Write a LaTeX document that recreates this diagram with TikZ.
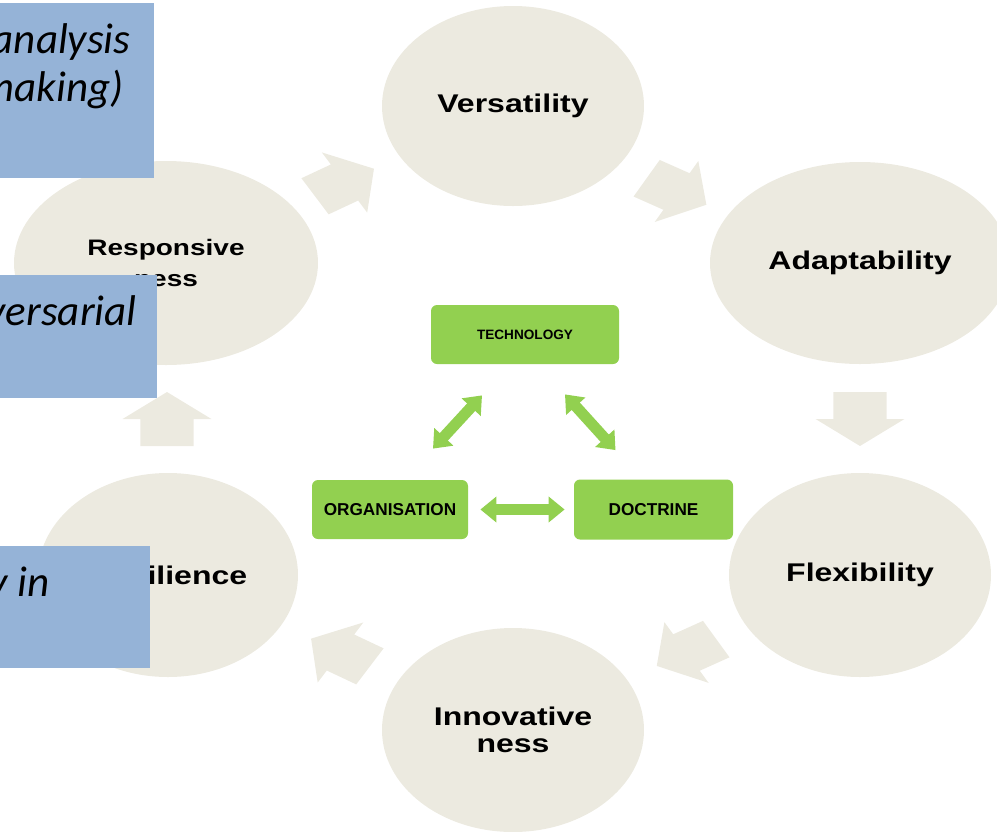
\documentclass[tikz,border=0pt]{standalone}
\usepackage{fontspec}
\setmainfont{Liberation Sans}
\newfontfamily\cyclefont[FakeStretch=1.25]{Liberation Sans}
\newfontfamily\notefont{Carlito}
\usetikzlibrary{shapes.geometric,arrows.meta,calc}
\definecolor{beige}{RGB}{236,234,224}
\definecolor{leaf}{RGB}{146,208,80}
\definecolor{noteblue}{RGB}{149,179,215}
\tikzset{
    ring/.style =      {ellipse,
                       fill=beige,
                       inner sep=0pt,
                       align=center,
                       font=\cyclefont\bfseries\fontsize{12.8}{13.4}\selectfont},
    smallring/.style = {ring,
                       font=\cyclefont\bfseries\fontsize{11.2}{15.5}\selectfont},
    unit/.style =      {rectangle,
                       rounded corners=3pt,
                       fill=leaf,
                       text=black,
                       inner sep=0pt,
                       font=\bfseries\fontsize{8.6}{10}\selectfont},
    garrow/.style =    {color=leaf,
                       line width=5.5pt,
                       arrows={Triangle[width=12.5pt,length=8pt]-Triangle[width=12.5pt,length=8pt]}},
    note/.style =      {rectangle,
                       fill=noteblue,
                       inner sep=0pt,
                       anchor=north east},
    notetext/.style =  {anchor=base east,
                       inner sep=0pt,
                       font=\notefont\itshape\fontsize{21.5}{25}\selectfont},
    % block arrow of the outer cycle, pointing along +x
    cycarrow/.pic =    {\fill[beige] (-27,-21) -- (0,-21) -- (0,-35) -- (27,0)
                                     -- (0,35) -- (0,21) -- (-27,21) -- cycle;}
}

\begin{document}
\begin{tikzpicture}[x=0.5pt, y=-0.5pt]
    \useasboundingbox (0,0) rectangle (997,831);
    \clip (0,0) rectangle (997,831);

    % outer cycle
    \node[ring, minimum width=131pt, minimum height=100pt]      (vers)  at (513,106) {Versatility};
    \node[ring, minimum width=150pt, minimum height=101pt]      (adapt) at (860,263) {Adaptability};
    \node[ring, minimum width=131pt, minimum height=102pt]      (flex)  at (860,575) {Flexibility};
    \node[ring, minimum width=131pt, minimum height=102pt]      (innov) at (513,730) {Innovative\\ness};
    \node[ring, minimum width=130pt, minimum height=102pt]      (resil) at (168,575) {Resilience};
    \node[smallring, minimum width=152pt, minimum height=102pt] (resp)  at (166,263) {Responsive\\ness};

    \pic[xscale=1.27, rotate=30.7]   at ($(resp)!.5!(vers)+(5,-2)$)   {cycarrow};
    \pic[xscale=1.27, rotate=-29.4]  at ($(vers)!.5!(adapt)+(-10,7)$) {cycarrow};
    \pic[xscale=1.27, rotate=-90]    at ($(adapt)!.5!(flex)$)         {cycarrow};
    \pic[xscale=1.27, rotate=-150.2] at ($(flex)!.5!(innov)$)         {cycarrow};
    \pic[xscale=1.27, rotate=149.1]  at ($(innov)!.5!(resil)$)        {cycarrow};
    \pic[xscale=1.27, rotate=90]     at ($(resil)!.5!(resp)$)         {cycarrow};

    % inner triangle
    \node[unit, minimum width=94pt, minimum height=29.5pt,
          font=\bfseries\fontsize{6.8}{8}\selectfont]     (tech) at (525,334.5) {TECHNOLOGY};
    \node[unit, minimum width=78pt, minimum height=29.5pt] (org)  at (390,509.5) {ORGANISATION};
    \node[unit, minimum width=79.5pt, minimum height=30pt] (doc)  at (653.5,509.5) {DOCTRINE};

    \path [garrow]  ([shift={(-43,31)}]tech.south) edge ([shift={(43,-31)}]org.north)
                    ([shift={(40,30)}]tech.south)  edge ([shift={(-38,-29)}]doc.north)
                    ([shift={(12,0)}]org.east)     edge ([shift={(-9,0)}]doc.west);

    % notes laid over the left side
    \node[note, minimum width=90pt, minimum height=87.5pt] (note1) at (154,3)   {};
    \node[note, minimum width=90pt, minimum height=61.5pt] (note2) at (157,275) {};
    \node[note, minimum width=90pt, minimum height=61pt]   (note3) at (150,546) {};

    \node[notetext] (line1) at (131,53)  {analysis};
    \node[notetext] (line2) at (124,101) {making)};
    \node[notetext] (line3) at (137,325) {versarial};
    \node[notetext] (line4) at (50,596)  {y in};
\end{tikzpicture}
\end{document}
